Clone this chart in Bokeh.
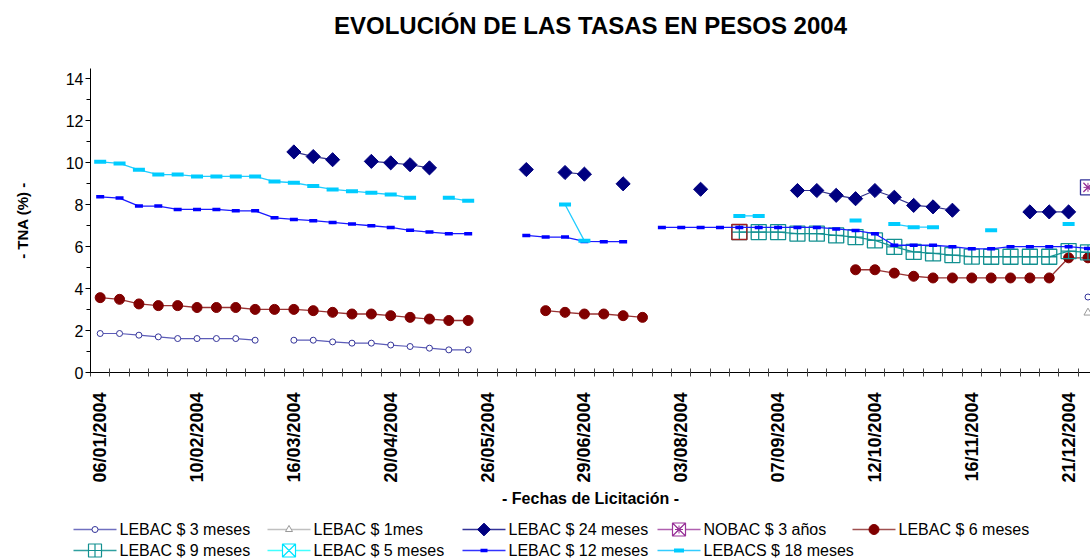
import math
from bokeh.plotting import figure
from bokeh.models import FixedTicker, Range1d
from bokeh.layouts import column
from bokeh.embed import file_html
from bokeh.resources import INLINE
from bokeh.core.properties import value

N = None

fechas = ["06/01/2004", "13/01/2004", "20/01/2004", "27/01/2004", "03/02/2004", "10/02/2004",
          "17/02/2004", "24/02/2004", "02/03/2004", "09/03/2004", "16/03/2004", "23/03/2004",
          "30/03/2004", "06/04/2004", "13/04/2004", "20/04/2004", "27/04/2004", "04/05/2004",
          "11/05/2004", "18/05/2004", "26/05/2004", "01/06/2004", "08/06/2004", "15/06/2004",
          "22/06/2004", "29/06/2004", "06/07/2004", "13/07/2004", "20/07/2004", "27/07/2004",
          "03/08/2004", "10/08/2004", "17/08/2004", "24/08/2004", "31/08/2004", "07/09/2004",
          "14/09/2004", "21/09/2004", "28/09/2004", "05/10/2004", "12/10/2004", "19/10/2004",
          "26/10/2004", "02/11/2004", "09/11/2004", "16/11/2004", "23/11/2004", "30/11/2004",
          "07/12/2004", "14/12/2004", "21/12/2004", "28/12/2004"]

lebac_3m = ([1.86, 1.86, 1.78, 1.70, 1.62, 1.62, 1.62, 1.62, 1.54, N,
             1.54, 1.54, 1.46, 1.40, 1.40, 1.31, 1.24, 1.16, 1.08, 1.08]
            + [N] * 31 + [3.60])
lebac_1m = [N] * 51 + [2.85]
lebac_24m = ([N] * 10 + [10.52, 10.30, 10.15, N, 10.07, 10.00, 9.91, 9.76] + [N] * 4
             + [9.68, N, 9.54, 9.46, N, 9.00] + [N] * 3 + [8.74] + [N] * 4
             + [8.68, 8.68, 8.45, 8.29, 8.68, 8.36, 7.97, 7.90, 7.74] + [N] * 3
             + [7.66, 7.66, 7.66] + [N])
nobac_3a = [N] * 51 + [8.83]
lebac_6m = ([3.57, 3.49, 3.27, 3.19, 3.19, 3.10, 3.10, 3.10, 3.01, 3.01,
             3.01, 2.95, 2.87, 2.79, 2.79, 2.71, 2.63, 2.55, 2.48, 2.48]
            + [N] * 3 + [2.95, 2.87, 2.79, 2.79, 2.71, 2.63] + [N] * 10
            + [4.90, 4.90, 4.74, 4.59, 4.51, 4.51, 4.51, 4.51, 4.51, 4.51, 4.51, 5.47, 5.47])
lebac_9m = ([N] * 33 + [6.70, 6.70, 6.70, 6.62, 6.62, 6.54, 6.46, 6.30, 5.99, 5.75,
                        5.68, 5.60, 5.53, 5.52, 5.52, 5.52, 5.52, 5.79, 5.73])
lebac_5m = [N] * 52
lebac_12m = ([8.38, 8.32, 7.94, 7.94, 7.78, 7.78, 7.78, 7.71, 7.71, 7.38,
              7.30, 7.24, 7.16, 7.08, 7.00, 6.92, 6.78, 6.70, 6.62, 6.62]
             + [N, N] + [6.54, 6.46, 6.46, 6.25, 6.24, 6.24] + [N]
             + [6.92, 6.92, 6.92, 6.92, 6.92, 6.92, 6.92, 6.92, 6.92]
             + [6.85, 6.77, 6.62, 6.07, 6.07, 6.07, 6.00, 5.90, 5.90, 6.00, 6.00, 6.00, 6.00, 5.92])
lebacs_18m = ([10.05, 9.97, 9.67, 9.44, 9.44, 9.35, 9.35, 9.35, 9.35, 9.11,
               9.05, 8.89, 8.73, 8.65, 8.57, 8.49, 8.33, N, 8.33, 8.19]
              + [N] * 4 + [8.01, 6.28] + [N] * 7 + [7.47, 7.47] + [N] * 4
              + [7.25, N, 7.08, 6.93, 6.93, N, N, 6.78, N, N, N, 7.08, N])

titulo = "EVOLUCIÓN DE LAS TASAS EN PESOS 2004"
eje_x = "- Fechas de Licitación -"
eje_y = "- TNA (%) -"
y_ticks = [0, 2, 4, 6, 8, 10, 12, 14]

FONT = "Liberation Sans"
nan = float("nan")


def arr(v):
    return [nan if a is None else a for a in v]


def strip(h):
    f = figure(width=W, height=h, x_range=Range1d(0, W), y_range=Range1d(0, h),
               output_backend="svg", toolbar_location=None, min_border=0,
               min_border_left=0, min_border_right=0, min_border_top=0, min_border_bottom=0,
               x_axis_location=None, y_axis_location=None)
    f.frame_align = False
    f.outline_line_color = None
    f.xgrid.visible = False
    f.ygrid.visible = False
    return f


idx = list(range(len(fechas)))
W = 1090

# ---------- title strip ----------
TH = 60
tf = strip(TH)
tf.text(x=[590], y=[TH - 25], text=[titulo], text_font=value(FONT), text_font_size="24px",
        text_font_style="bold", text_align="center", text_baseline="middle", text_color="black")

# ---------- main chart ----------
p = figure(width=W, height=449, x_range=Range1d(-0.5, 51.13), y_range=Range1d(0, 14.5),
           output_backend="svg", toolbar_location=None,
           min_border_left=90, min_border_right=0, min_border_top=8, min_border_bottom=136)
p.frame_align = False
p.outline_line_color = None
p.xgrid.visible = False
p.ygrid.visible = False
p.background_fill_color = "white"

# y axis
p.yaxis.ticker = FixedTicker(ticks=y_ticks, minor_ticks=list(range(0, 15)))
p.yaxis.major_label_text_font = FONT
p.yaxis.major_label_text_font_size = "16px"
p.yaxis.major_label_text_color = "black"
p.yaxis.major_tick_in = 0
p.yaxis.major_tick_out = 5
p.yaxis.minor_tick_in = 0
p.yaxis.minor_tick_out = 4
p.yaxis.major_label_standoff = 2
p.yaxis.axis_line_color = "black"
p.yaxis.axis_label = eje_y
p.yaxis.axis_label_text_font = FONT
p.yaxis.axis_label_text_font_size = "15px"
p.yaxis.axis_label_text_font_style = "bold"
p.yaxis.axis_label_text_color = "black"
p.yaxis.axis_label_standoff = 32

# x axis
p.xaxis.ticker = FixedTicker(ticks=list(range(0, len(fechas), 5)),
                             minor_ticks=[k + 0.5 for k in range(-1, len(fechas))])
p.xaxis.major_label_overrides = {i: fechas[i] for i in range(0, len(fechas), 5)}
p.xaxis.major_label_orientation = math.pi / 2
p.xaxis.major_label_text_font = FONT
p.xaxis.major_label_text_font_size = "18px"
p.xaxis.major_label_text_font_style = "bold"
p.xaxis.major_label_text_color = "black"
p.xaxis.major_tick_in = 0
p.xaxis.major_tick_out = 0
p.xaxis.minor_tick_in = 4
p.xaxis.minor_tick_out = 4
p.xaxis.minor_tick_line_color = "#444444"
p.xaxis.major_label_standoff = 16
p.xaxis.axis_line_color = "black"
p.xaxis.axis_label = eje_x
p.xaxis.axis_label_text_font = FONT
p.xaxis.axis_label_text_font_size = "16px"
p.xaxis.axis_label_text_font_style = "bold"
p.xaxis.axis_label_text_color = "black"
p.xaxis.axis_label_standoff = 4

# series
p.line(idx, arr(lebac_3m), line_color="#5C5CB8", line_width=1.2)
p.scatter(idx, arr(lebac_3m), marker="circle", size=6, fill_color="white",
          line_color="#333399", line_width=1)
p.line(idx, arr(lebac_1m), line_color="#B0B0B0", line_width=1.2)
p.scatter(idx, arr(lebac_1m), marker="triangle", size=8, fill_color="white",
          line_color="#999999", line_width=1)
p.line(idx, arr(lebac_24m), line_color="#33338C", line_width=1.2)
p.scatter(idx, arr(lebac_24m), marker="square", angle=math.pi / 4, size=10,
          fill_color="#000080", line_color="#000080")
p.line(idx, arr(nobac_3a), line_color="#993399", line_width=1.2)
p.scatter(idx, arr(nobac_3a), marker="square", size=15, fill_color=None,
          line_color="#333399", line_width=1.3)
p.scatter(idx, arr(nobac_3a), marker="x", size=13, line_color="#993399", line_width=1.3)
p.scatter(idx, arr(nobac_3a), marker="asterisk", size=9, line_color="#993399", line_width=1)
p.line(idx, arr(lebac_6m), line_color="#993333", line_width=1.3)
p.scatter(idx, arr(lebac_6m), marker="circle", size=10, fill_color="#800000",
          line_color="#800000")
p.line(idx, arr(lebac_9m), line_color="#159494", line_width=1.3)
p.scatter(idx, arr(lebac_9m), marker="square_cross", size=15, fill_color=None,
          line_color="#129090", line_width=1.3)
first9 = next(i for i, v in enumerate(lebac_9m) if v is not None)
p.scatter([idx[first9]], [lebac_9m[first9]], marker="square", size=15, fill_color=None,
          line_color="#A02020", line_width=1.4)
p.line(idx, arr(lebac_5m), line_color="#33FFFF", line_width=1.2)
p.scatter(idx, arr(lebac_5m), marker="square_x", size=12, fill_color=None,
          line_color="#00FFFF")
p.line(idx, arr(lebac_12m), line_color="#1A1AFF", line_width=1.3)
p.scatter(idx, arr(lebac_12m), marker="dash", size=8, line_color="#0000FF", line_width=3.5)
p.line(idx, arr(lebacs_18m), line_color="#22CCFF", line_width=1.3)
p.scatter(idx, arr(lebacs_18m), marker="dash", size=12, line_color="#00CCFF", line_width=4)

# ---------- legend strip ----------
leg_labels = ["LEBAC $ 3 meses", "LEBAC $ 1mes", "LEBAC $ 24 meses", "NOBAC $ 3 años",
              "LEBAC $ 6 meses", "LEBAC $ 9 meses", "LEBAC $ 5 meses", "LEBAC $ 12 meses",
              "LEBACS $ 18 meses"]
leg_line_colors = ["#7070C0", "#C0C0C0", "#333399", "#B060B0", "#A05050",
                   "#30A0A0", "#40FFFF", "#3333FF", "#33CCFF"]

LH = 49
leg = strip(LH)

col_x = [73, 267, 462, 657, 852]
row_y = [29, 8]
lx, ly = [], []
for k in range(len(leg_labels)):
    lx.append(col_x[k % 5])
    ly.append(row_y[k // 5])
seg_len = 43
leg.segment(x0=lx, y0=ly, x1=[x + seg_len for x in lx], y1=ly,
            line_color=leg_line_colors, line_width=1.6)
mx = [x + seg_len / 2 for x in lx]


def mk(k, **kw):
    leg.scatter([mx[k]], [ly[k]], **kw)


mk(0, marker="circle", size=6, fill_color="white", line_color="#333399")
mk(1, marker="triangle", size=7, fill_color="white", line_color="#999999")
mk(2, marker="square", angle=math.pi / 4, size=9, fill_color="#000080", line_color="#000080")
mk(3, marker="square_x", size=13, fill_color="white", line_color="#993399", line_width=1.2)
mk(3, marker="asterisk", size=8, line_color="#993399")
mk(4, marker="circle", size=10, fill_color="#800000", line_color="#800000")
mk(5, marker="square_cross", size=13, fill_color="white", line_color="#129090", line_width=1.2)
mk(6, marker="square_x", size=13, fill_color="white", line_color="#00E5FF", line_width=1.2)
mk(7, marker="dash", size=7, line_color="#0000FF", line_width=3.5)
mk(8, marker="dash", size=10, line_color="#00CCFF", line_width=4)

leg.text(x=[x + 46 for x in lx], y=ly, text=leg_labels, text_font=value(FONT),
         text_font_size="16px", text_baseline="middle", text_align="left", text_color="black")

layout = column(tf, p, leg, spacing=0)
open("out.html", "w").write(file_html(layout, INLINE))
